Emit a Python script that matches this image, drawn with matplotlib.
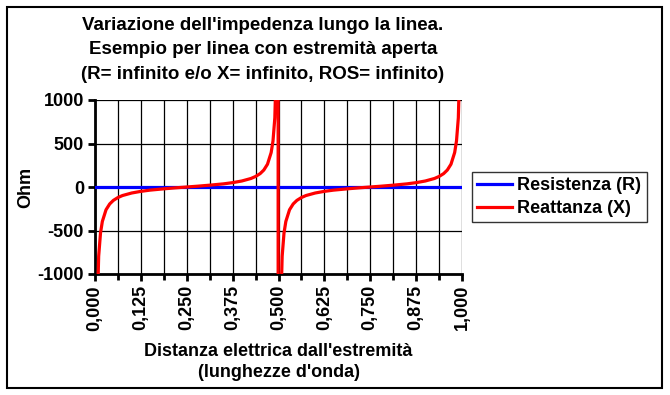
import numpy as np
import matplotlib.pyplot as plt
from matplotlib.ticker import MultipleLocator, FuncFormatter
from matplotlib.patches import Rectangle

plt.rcParams['font.family'] = ['Liberation Sans', 'DejaVu Sans']
plt.rcParams['font.weight'] = 'bold'
plt.rcParams['axes.unicode_minus'] = False

# distanza elettrica (lunghezze d'onda) e reattanza (Ohm)
dist = [0.002, 0.005, 0.01, 0.015, 0.02, 0.03, 0.04, 0.05, 0.0625, 0.075,
        0.1, 0.125, 0.15, 0.1875, 0.22, 0.25, 0.28, 0.3125, 0.35, 0.375,
        0.4, 0.425, 0.4375, 0.45, 0.46, 0.47, 0.48, 0.485, 0.49, 0.495,
        0.499, 0.5, 0.501, 0.505, 0.51, 0.515, 0.52, 0.53, 0.54, 0.55,
        0.5625, 0.575, 0.6, 0.625, 0.65, 0.6875, 0.72, 0.75, 0.78, 0.8125,
        0.85, 0.875, 0.9, 0.925, 0.9375, 0.95, 0.96, 0.97, 0.98, 0.985,
        0.99, 0.995, 0.998]
reatt = [-3979, -1590, -795, -529, -396, -262, -195, -154, -121, -98,
         -69, -50, -36, -21, -9.5, 0, 9.5, 21, 36, 50,
         69, 98, 121, 154, 195, 262, 396, 529, 795, 1590,
         7958, -1000000, -7958, -1590, -795, -529, -396, -262, -195, -154,
         -121, -98, -69, -50, -36, -21, -9.5, 0, 9.5, 21,
         36, 50, 69, 98, 121, 154, 195, 262, 396, 529,
         795, 1590, 3979]
res_x = [0.0, 1.0]
res_y = [0, 0]

FS = 13

fig = plt.figure(figsize=(6.7, 3.95), dpi=100)
ax = fig.add_axes([95/670, 1-274/395, 367/670, 174/395])

ax.plot(res_x, res_y, color='#0000ff', lw=2.3, label='Resistenza (R)', zorder=3)
ax.plot(dist, reatt, color='#ff0000', lw=2.3, label='Reattanza (X)', zorder=4)

ax.set_xlim(0, 1)
ax.set_ylim(-1000, 1000)
ax.xaxis.set_major_locator(MultipleLocator(0.125))
ax.xaxis.set_minor_locator(MultipleLocator(0.0625))
ax.yaxis.set_major_locator(MultipleLocator(500))
ax.xaxis.set_major_formatter(FuncFormatter(lambda v, p: ('%.3f' % v).replace('.', ',')))
ax.grid(True, which='both', axis='x', color='black', lw=0.9)
ax.grid(True, which='major', axis='y', color='black', lw=0.9)
ax.set_axisbelow(True)
for s in ['top', 'right']:
    ax.spines[s].set_visible(False)
for s in ['left', 'bottom']:
    ax.spines[s].set_linewidth(2)
ax.tick_params(axis='both', which='major', length=5, width=2, labelsize=FS, direction='out', pad=3)
ax.tick_params(axis='x', which='minor', length=4, width=2)
ax.tick_params(axis='x', labelrotation=90)
for lab in ax.get_xticklabels() + ax.get_yticklabels():
    lab.set_fontweight('bold')

ax.set_ylabel('Ohm', fontsize=FS, fontweight='bold', labelpad=2)
ax.set_xlabel("Distanza elettrica dall'estremità\n(lunghezze d'onda)", fontsize=FS,
              fontweight='bold', labelpad=9, linespacing=1.3)

fig.text(263/670, 1-50/395, "Variazione dell'impedenza lungo la linea.\n"
         "Esempio per linea con estremità aperta\n"
         "(R= infinito e/o X= infinito, ROS= infinito)",
         ha='center', va='center', fontsize=13.5, fontweight='bold', linespacing=1.55)

leg = fig.legend(loc='upper left', bbox_to_anchor=(472/670, 1-172/395), fontsize=FS,
                 frameon=True, fancybox=False, edgecolor='black', handlelength=1.9,
                 borderpad=0.3, labelspacing=0.3, handletextpad=0.3, borderaxespad=0)
leg.get_frame().set_linewidth(1)
for t in leg.get_texts():
    t.set_fontweight('bold')

fig.patches.append(Rectangle((7/670, 1-388/395), 655/670, 381/395, transform=fig.transFigure,
                             fill=False, edgecolor='black', lw=1.5))

fig.savefig('out.png', dpi=100)
